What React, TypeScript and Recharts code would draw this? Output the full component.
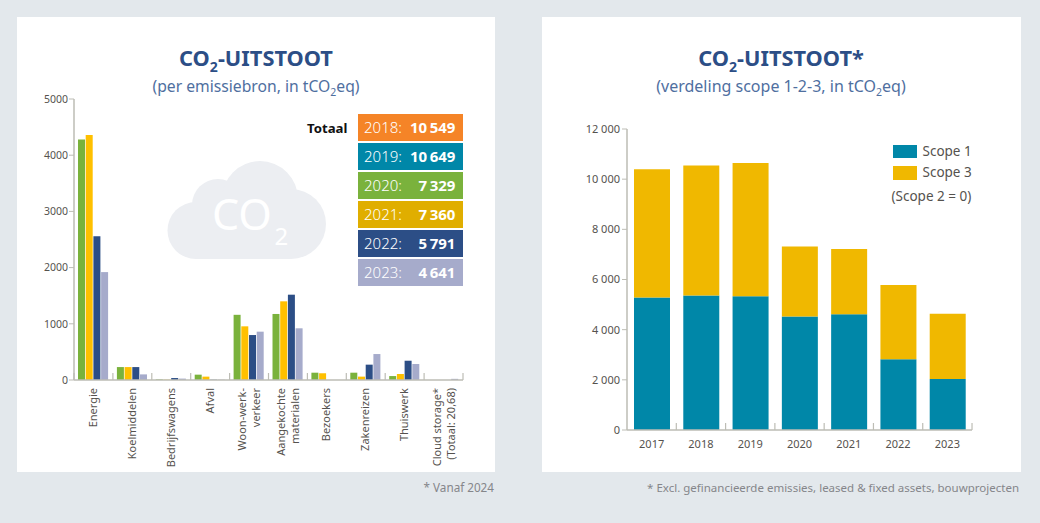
import { BarChart, Bar, XAxis, YAxis } from "recharts";

const FONT = '"Noto Sans", "Open Sans", sans-serif';

// left chart
const sources = [
  ["Energie"],
  ["Koelmiddelen"],
  ["Bedrijfswagens"],
  ["Afval"],
  ["Woon-werk-", "verkeer"],
  ["Aangekochte", "materialen"],
  ["Bezoekers"],
  ["Zakenreizen"],
  ["Thuiswerk"],
  ["Cloud storage*", "(Totaal: 20,68)"],
];
const values2020 = [4280, 230, 10, 95, 1160, 1175, 130, 130, 70, 0];
const values2021 = [4360, 230, 5, 60, 955, 1400, 120, 60, 107, 0];
const values2022 = [2560, 230, 35, 5, 800, 1518, 0, 273, 343, 0];
const values2023 = [1920, 100, 25, 5, 860, 920, 0, 462, 285, 20.68];
const sourceTicks = [0, 1000, 2000, 3000, 4000, 5000];

const sourceData = sources.map((lines, i) => ({
  name: lines.join(" "),
  lines,
  y2020: values2020[i],
  y2021: values2021[i],
  y2022: values2022[i],
  y2023: values2023[i],
}));

const totalYears = ["2018", "2019", "2020", "2021", "2022", "2023"];
const totalValues = ["10\u2009549", "10\u2009649", "7\u2009329", "7\u2009360", "5\u2009791", "4\u2009641"];
const totalColors = ["#F58427", "#0087A8", "#7AB23C", "#E0AE00", "#2C4E86", "#A6ABCB"];

// right chart
const years = ["2017", "2018", "2019", "2020", "2021", "2022", "2023"];
const scope1 = [5280, 5360, 5335, 4520, 4615, 2820, 2035];
const scope3 = [5120, 5185, 5305, 2795, 2605, 2965, 2595];
const scopeTicks = [0, 2000, 4000, 6000, 8000, 10000, 12000];

const scopeData = years.map((year, i) => ({
  year,
  scope1: scope1[i],
  scope3: scope3[i],
}));

const AXIS_COLOR = "#BDBDB5";
const TEXT_COLOR = "#55524E";
const TITLE_COLOR = "#2C4E86";
const SUB_COLOR = "#4F6F9F";

const SOURCE_BAND = 38.9;
const YEAR_BAND = 49.33;

function SourceTick({ x, y, payload, index }: any) {
  const lines = sourceData[index] ? sourceData[index].lines : [payload.value];
  const two = lines.length > 1;
  return (
    <g>
      <line x1={x - SOURCE_BAND / 2} x2={x - SOURCE_BAND / 2} y1={y - 7} y2={y} stroke={AXIS_COLOR} strokeWidth={1.2} />
      {index === sources.length - 1 && (
        <line x1={x + SOURCE_BAND / 2} x2={x + SOURCE_BAND / 2} y1={y - 7} y2={y} stroke={AXIS_COLOR} strokeWidth={1.2} />
      )}
      {lines.map((line: string, i: number) => {
        const bx = two ? x - 3 + i * 14 : x + 3.5;
        return (
          <text
            key={i}
            x={bx}
            y={y + 8}
            transform={`rotate(-90 ${bx} ${y + 8})`}
            textAnchor="end"
            fontSize={11}
            fontFamily={FONT}
            fill={TEXT_COLOR}
          >
            {line}
          </text>
        );
      })}
    </g>
  );
}

function YearTick({ x, y, payload, index }: any) {
  return (
    <g>
      <line x1={x + YEAR_BAND / 2} x2={x + YEAR_BAND / 2} y1={y - 7} y2={y} stroke={AXIS_COLOR} strokeWidth={1.2} />
      <text x={x} y={y + 18} textAnchor="middle" fontSize={11} fontFamily={FONT} fill={TEXT_COLOR}>
        {payload.value}
      </text>
    </g>
  );
}

function Sub({ size, top }: { size: number; top: number }) {
  return <span style={{ fontSize: size, position: "relative", top }}>2</span>;
}

function Heading({ left, star, sub, subSize }: { left: number; star: string; sub: string; subSize: number }) {
  return (
    <>
      <div
        style={{
          position: "absolute",
          left,
          top: 44,
          width: 478,
          textAlign: "center",
          fontSize: 21.8,
          lineHeight: "28px",
          fontWeight: 700,
          color: TITLE_COLOR,
        }}
      >
        CO<Sub size={14} top={6} />-UITSTOOT{star}
      </div>
      <div
        style={{
          position: "absolute",
          left,
          top: 74,
          width: 478,
          textAlign: "center",
          fontSize: subSize,
          lineHeight: "24px",
          color: SUB_COLOR,
        }}
      >
        {sub}, in tCO<Sub size={10.5} top={4} />eq)
      </div>
    </>
  );
}

export default function App() {
  return (
    <div
      style={{
        position: "absolute",
        left: 0,
        top: 0,
        width: 1040,
        height: 523,
        overflow: "hidden",
        background: "#E3E8EC",
        fontFamily: FONT,
      }}
    >
      <div style={{ position: "absolute", left: 17, top: 17, width: 478, height: 455, background: "#fff" }} />
      <div style={{ position: "absolute", left: 542, top: 17, width: 479, height: 455, background: "#fff" }} />

      <Heading left={17} star="" sub="(per emissiebron" subSize={15.7} />
      <Heading left={542} star="*" sub="(verdeling scope 1-2-3" subSize={16} />

      {/* cloud */}
      <svg style={{ position: "absolute", left: 0, top: 0 }} width={1040} height={523}>
        <g fill="#ECEEF2">
          <circle cx={196} cy={230.5} r={28.5} />
          <circle cx={218} cy={205} r={26} />
          <circle cx={260} cy={199} r={38} />
          <circle cx={291} cy={224} r={35} />
          <rect x={196} y={200} width={95} height={59} />
        </g>
        <text x={212} y={230} fontSize={43} fontWeight={400} fontFamily={FONT} fill="#fff">
          CO
        </text>
        <text x={274.5} y={245} fontSize={24} fontWeight={400} fontFamily={FONT} fill="#fff">
          2
        </text>
      </svg>

      <div style={{ position: "absolute", left: 17, top: 17 }}>
        <BarChart
          width={478}
          height={455}
          data={sourceData}
          margin={{ top: 82, right: 32, bottom: 0, left: 0 }}
          barSize={7}
          barGap={0.7}
        >
          <YAxis
            width={57}
            domain={[0, 5000]}
            ticks={sourceTicks}
            interval={0}
            tickSize={5}
            tickMargin={1}
            axisLine={{ stroke: AXIS_COLOR, strokeWidth: 1.5 }}
            tickLine={{ stroke: AXIS_COLOR }}
            tick={{ fontSize: 10.5, fill: TEXT_COLOR, fontFamily: FONT }}
          />
          <XAxis
            dataKey="name"
            height={92}
            interval={0}
            tickSize={0}
            tickMargin={0}
            axisLine={{ stroke: AXIS_COLOR, strokeWidth: 1.5 }}
            tickLine={false}
            tick={<SourceTick />}
          />
          <Bar dataKey="y2020" fill={totalColors[2]} isAnimationActive={false} />
          <Bar dataKey="y2021" fill="#FFC000" isAnimationActive={false} />
          <Bar dataKey="y2022" fill={totalColors[4]} isAnimationActive={false} />
          <Bar dataKey="y2023" fill={totalColors[5]} isAnimationActive={false} />
        </BarChart>
      </div>

      {/* totals */}
      <div
        style={{
          position: "absolute",
          left: 307,
          top: 118,
          fontSize: 13.2,
          lineHeight: "20px",
          fontWeight: 700,
          color: "#111",
        }}
      >
        Totaal
      </div>
      {totalYears.map((year, i) => (
        <div
          key={year}
          style={{
            position: "absolute",
            left: 358,
            top: 114.4 + i * 29,
            width: 105.4,
            height: 26.4,
            background: totalColors[i],
            color: "#fff",
            lineHeight: "27px",
            fontSize: 15,
          }}
        >
          <span style={{ position: "absolute", left: 6, fontWeight: 300 }}>{year}:</span>
          <span style={{ position: "absolute", right: 8, fontWeight: 700 }}>{totalValues[i]}</span>
        </div>
      ))}

      <div
        style={{
          position: "absolute",
          right: 546,
          top: 480,
          fontSize: 11.7,
          lineHeight: "15px",
          color: "#85868A",
        }}
      >
        * Vanaf 2024
      </div>

      <div style={{ position: "absolute", left: 542, top: 17 }}>
        <BarChart
          width={479}
          height={455}
          data={scopeData}
          margin={{ top: 112, right: 49, bottom: 0, left: 0 }}
          barSize={36}
        >
          <YAxis
            width={85}
            domain={[0, 12000]}
            ticks={scopeTicks}
            interval={0}
            tickSize={5}
            tickMargin={2}
            tickFormatter={(v: number) => String(v).replace(/\B(?=(\d{3})+$)/g, "\u2005")}
            axisLine={{ stroke: AXIS_COLOR, strokeWidth: 1.5 }}
            tickLine={{ stroke: AXIS_COLOR }}
            tick={{ fontSize: 11, fill: TEXT_COLOR, fontFamily: FONT }}
          />
          <XAxis
            dataKey="year"
            height={42}
            interval={0}
            tickSize={0}
            tickMargin={0}
            axisLine={{ stroke: AXIS_COLOR, strokeWidth: 1.5 }}
            tickLine={false}
            tick={<YearTick />}
          />
          <Bar dataKey="scope1" stackId="a" fill="#0087A8" isAnimationActive={false} />
          <Bar dataKey="scope3" stackId="a" fill="#F0B800" isAnimationActive={false} />
        </BarChart>
      </div>

      {/* legend */}
      {[
        ["Scope 1", "#0087A8"],
        ["Scope 3", "#F0B800"],
      ].map(([label, color], i) => (
        <div key={label}>
          <div
            style={{
              position: "absolute",
              left: 892.7,
              top: 145 + i * 21.3,
              width: 24,
              height: 13.3,
              background: color,
            }}
          />
          <div
            style={{
              position: "absolute",
              left: 922.5,
              top: 141 + i * 21.3,
              fontSize: 13.5,
              lineHeight: "20px",
              color: TEXT_COLOR,
            }}
          >
            {label}
          </div>
        </div>
      ))}
      <div
        style={{
          position: "absolute",
          left: 891.5,
          top: 186,
          fontSize: 13.5,
          lineHeight: "20px",
          color: TEXT_COLOR,
        }}
      >
        (Scope 2 = 0)
      </div>

      <div
        style={{
          position: "absolute",
          right: 21,
          top: 480,
          fontSize: 11.5,
          lineHeight: "15px",
          color: "#85868A",
        }}
      >
        * Excl. gefinancieerde emissies, leased &amp; fixed assets, bouwprojecten
      </div>
    </div>
  );
}
